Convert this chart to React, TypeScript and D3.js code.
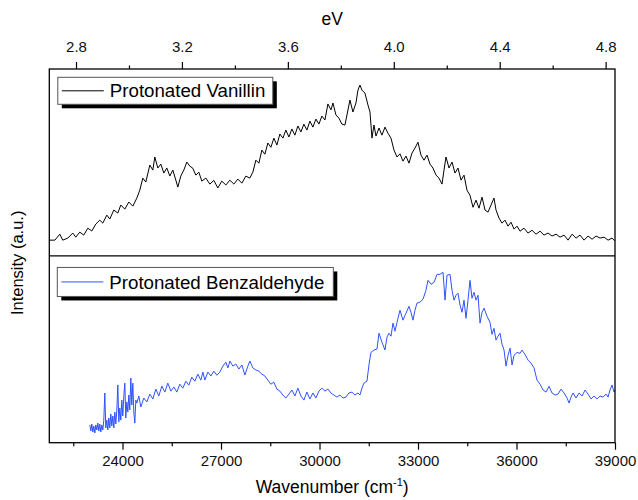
import { useEffect, useRef } from "react";
import * as d3 from "d3";

const W = 638;
const H = 500;
const margin = { top: 69, bottom: 57.3, left: 49.3, right: 23 };
const PLOT_W = W - margin.left - margin.right;
const PLOT_H = H - margin.top - margin.bottom;
const FONT = "'Liberation Sans', Arial, sans-serif";
const EV_PER_WN = 8065.54;

const WN_DOMAIN: [number, number] = [21770, 39000];
const WN_TICKS = [24000, 27000, 30000, 33000, 36000, 39000];
const WN_MINOR = [22500, 25500, 28500, 31500, 34500, 37500];
const EV_TICKS = [2.8, 3.2, 3.6, 4.0, 4.4, 4.8];
const EV_MINOR = [3.0, 3.4, 3.8, 4.2, 4.6];

const SERIES_NAMES = ["Protonated Vanillin", "Protonated Benzaldehyde"];
const SERIES_COLORS = ["#000000", "#2f52ff"];

// [wavenumber, intensity (a.u., 0-100 per panel)]
const VANILLIN: [number, number][] = [
  [21785, 8.4], [21940, 8.4], [22090, 11.6], [22180, 8.4], [22333, 9.5], [22486, 12.2],
  [22577, 10.0], [22699, 12.7], [22820, 11.1], [22943, 14.8], [23065, 13.3], [23187, 17.0],
  [23308, 19.1], [23400, 17.5], [23522, 21.8], [23613, 19.7], [23735, 24.5], [23857, 22.9],
  [23948, 27.2], [24070, 25.0], [24192, 28.8], [24314, 26.6], [24436, 30.9], [24527, 35.2],
  [24619, 41.6], [24710, 39.5], [24832, 48.6], [24923, 45.9], [24984, 52.9], [25076, 47.0],
  [25167, 49.1], [25258, 44.3], [25350, 47.0], [25441, 42.7], [25532, 45.9], [25624, 40.5],
  [25685, 36.8], [25776, 42.7], [25867, 45.9], [25959, 50.2], [26050, 48.0], [26141, 46.9],
  [26233, 43.2], [26324, 44.8], [26416, 40.0], [26538, 41.6], [26660, 38.4], [26782, 40.4],
  [26903, 36.3], [27025, 40.0], [27148, 37.9], [27270, 40.5], [27391, 38.4], [27513, 41.1],
  [27635, 38.9], [27757, 42.7], [27879, 41.6], [27970, 44.8], [28062, 51.2], [28153, 49.6],
  [28245, 56.6], [28336, 54.4], [28427, 60.4], [28519, 58.1], [28610, 63.0], [28702, 59.3],
  [28793, 65.2], [28885, 63.0], [28976, 67.3], [29068, 63.6], [29159, 67.9], [29250, 64.6],
  [29342, 69.5], [29433, 66.3], [29525, 70.5], [29616, 67.3], [29707, 72.1], [29799, 68.9],
  [29890, 73.2], [29982, 70.5], [30073, 74.8], [30165, 72.7], [30256, 81.3], [30348, 78.1],
  [30409, 81.8], [30500, 75.4], [30591, 73.7], [30683, 70.5], [30774, 70.0], [30866, 78.0],
  [30927, 83.4], [31018, 77.0], [31110, 81.8], [31171, 88.7], [31232, 91.4], [31293, 88.7],
  [31384, 87.1], [31476, 80.7], [31537, 77.0], [31598, 63.0], [31659, 70.0], [31720, 64.1],
  [31811, 68.4], [31902, 64.6], [31994, 68.9], [32085, 65.6], [32177, 63.0], [32268, 56.6],
  [32360, 52.9], [32451, 54.6], [32542, 50.7], [32634, 53.4], [32725, 49.6], [32817, 55.0],
  [32908, 57.7], [32999, 60.8], [33091, 53.9], [33182, 51.2], [33274, 53.9], [33365, 49.1],
  [33456, 47.0], [33548, 43.2], [33639, 41.6], [33731, 38.4], [33792, 45.9], [33853, 52.9],
  [33944, 47.0], [34036, 50.2], [34127, 44.3], [34218, 47.0], [34310, 40.5], [34401, 43.2],
  [34493, 35.1], [34584, 32.4], [34675, 26.0], [34767, 29.8], [34858, 25.5], [34950, 31.4],
  [35041, 24.5], [35132, 23.4], [35224, 27.2], [35315, 30.9], [35376, 24.5], [35468, 20.2],
  [35559, 17.5], [35650, 19.1], [35742, 15.9], [35833, 18.0], [35925, 14.3], [36016, 15.9],
  [36107, 13.2], [36229, 14.8], [36351, 12.2], [36473, 13.7], [36595, 11.6], [36717, 13.2],
  [36839, 11.1], [36960, 12.2], [37082, 10.6], [37204, 11.6], [37326, 10.0], [37448, 11.1],
  [37570, 8.4], [37692, 11.6], [37814, 9.5], [37935, 11.1], [38057, 8.4], [38179, 10.6],
  [38301, 8.9], [38423, 10.6], [38545, 9.5], [38667, 10.0], [38789, 8.4], [38910, 9.5],
  [39000, 7.9],
];

const BENZALDEHYDE: [number, number][] = [
  [23004, 9.5], [23035, 6.3], [23065, 10.0], [23096, 5.7], [23126, 8.9], [23157, 5.2],
  [23187, 9.5], [23218, 6.8], [23248, 10.5], [23279, 6.3], [23308, 10.0], [23339, 5.7],
  [23370, 9.5], [23400, 6.8], [23430, 12.1], [23461, 26.6], [23491, 7.9], [23522, 12.1],
  [23552, 6.8], [23583, 13.2], [23613, 7.9], [23644, 15.4], [23674, 8.9], [23705, 14.3],
  [23735, 7.9], [23766, 16.4], [23796, 10.0], [23827, 17.5], [23857, 30.9], [23887, 11.1],
  [23918, 18.6], [23948, 12.1], [23979, 22.8], [24009, 14.3], [24040, 25.0], [24070, 31.9],
  [24100, 13.2], [24131, 21.8], [24161, 16.4], [24192, 25.5], [24222, 17.5], [24253, 34.6],
  [24283, 20.2], [24314, 31.9], [24344, 16.4], [24375, 10.5], [24405, 22.8], [24436, 21.2],
  [24497, 25.0], [24558, 19.1], [24649, 23.9], [24741, 21.8], [24832, 26.0], [24923, 23.4],
  [25015, 28.7], [25106, 25.0], [25198, 30.3], [25289, 27.1], [25380, 31.9], [25472, 27.6],
  [25563, 29.8], [25654, 27.1], [25746, 31.3], [25837, 29.2], [25929, 32.9], [26020, 30.8],
  [26111, 35.1], [26203, 32.9], [26294, 36.7], [26386, 33.5], [26447, 37.8], [26508, 33.5],
  [26599, 37.8], [26691, 35.7], [26782, 38.3], [26874, 36.1], [26965, 37.8], [27057, 41.0],
  [27148, 43.1], [27209, 40.0], [27270, 43.7], [27361, 41.0], [27452, 42.1], [27544, 39.4],
  [27635, 41.6], [27727, 36.2], [27818, 41.0], [27879, 43.7], [27970, 40.0], [28062, 38.9],
  [28153, 38.3], [28245, 36.7], [28336, 35.7], [28427, 33.5], [28519, 31.3], [28610, 32.4],
  [28702, 28.7], [28793, 27.6], [28885, 25.5], [28976, 23.9], [29068, 26.0], [29159, 28.2],
  [29250, 25.0], [29342, 29.2], [29433, 25.0], [29525, 22.8], [29616, 27.1], [29707, 23.4],
  [29799, 26.6], [29890, 23.9], [29982, 27.6], [30073, 29.2], [30165, 27.6], [30256, 28.7],
  [30348, 26.6], [30439, 25.5], [30530, 24.4], [30622, 25.5], [30713, 23.9], [30805, 24.4],
  [30896, 26.6], [30988, 27.1], [31079, 25.5], [31171, 26.6], [31232, 25.5], [31293, 29.2],
  [31354, 31.9], [31446, 33.0], [31506, 41.6], [31567, 48.3], [31659, 49.6], [31750, 50.1],
  [31811, 58.6], [31902, 53.8], [31994, 49.6], [32055, 56.5], [32116, 58.6], [32177, 57.0],
  [32238, 64.0], [32299, 59.7], [32360, 64.4], [32451, 70.9], [32542, 65.6], [32634, 69.3],
  [32725, 73.0], [32786, 69.8], [32847, 65.6], [32908, 70.9], [32969, 74.7], [33060, 75.2],
  [33152, 76.8], [33243, 81.6], [33304, 86.9], [33396, 84.8], [33487, 85.8], [33579, 90.1],
  [33670, 90.1], [33762, 91.2], [33823, 76.3], [33884, 89.6], [33975, 90.1], [34036, 81.6],
  [34097, 76.3], [34158, 78.9], [34218, 80.0], [34280, 73.6], [34341, 69.8], [34401, 76.3],
  [34462, 66.6], [34523, 76.3], [34584, 86.9], [34645, 77.3], [34706, 80.5], [34767, 76.3],
  [34828, 78.9], [34889, 64.0], [34950, 69.8], [35011, 72.0], [35102, 67.7], [35193, 64.4],
  [35254, 58.0], [35315, 61.2], [35376, 54.9], [35437, 57.0], [35498, 58.6], [35559, 52.7],
  [35620, 49.6], [35681, 41.0], [35742, 46.8], [35803, 50.6], [35864, 41.6], [35925, 46.8],
  [36016, 48.3], [36107, 47.8], [36168, 49.6], [36260, 47.2], [36351, 44.2], [36442, 42.6],
  [36534, 40.0], [36625, 33.5], [36717, 31.3], [36808, 28.2], [36900, 27.1], [36991, 30.2],
  [37082, 26.6], [37174, 25.5], [37265, 26.0], [37357, 28.7], [37448, 26.6], [37539, 23.9],
  [37600, 21.2], [37661, 24.4], [37722, 26.6], [37814, 23.9], [37905, 26.6], [37997, 25.0],
  [38088, 28.2], [38179, 26.0], [38271, 23.4], [38362, 25.0], [38453, 23.4], [38545, 25.0],
  [38636, 24.4], [38727, 26.0], [38789, 24.4], [38849, 28.2], [38910, 30.9], [38971, 27.1],
  [39000, 28.2],
];

const App = () => {
  const svgRef = useRef<SVGSVGElement | null>(null);

  useEffect(() => {
    if (!svgRef.current) return;
    const svg = d3.select(svgRef.current);
    svg.selectAll("*").remove();

    const x = d3.scaleLinear().domain(WN_DOMAIN).range([0, PLOT_W]);
    const xEv = d3
      .scaleLinear()
      .domain([WN_DOMAIN[0] / EV_PER_WN, WN_DOMAIN[1] / EV_PER_WN])
      .range([0, PLOT_W]);

    const panelH = PLOT_H / 2;
    const yTop = d3.scaleLinear().domain([0, 100]).range([panelH, 0]);
    const yBot = d3.scaleLinear().domain([0, 100]).range([PLOT_H, panelH]);

    const g = svg
      .append("g")
      .attr("transform", `translate(${margin.left}, ${margin.top})`);

    // series
    const lineTop = d3
      .line<[number, number]>()
      .x((d) => x(d[0]))
      .y((d) => yTop(d[1]));
    const lineBot = d3
      .line<[number, number]>()
      .x((d) => x(d[0]))
      .y((d) => yBot(d[1]));

    g.append("path")
      .datum(VANILLIN)
      .attr("fill", "none")
      .attr("stroke", SERIES_COLORS[0])
      .attr("stroke-width", 1)
      .attr("stroke-linejoin", "round")
      .attr("d", lineTop);

    g.append("path")
      .datum(BENZALDEHYDE)
      .attr("fill", "none")
      .attr("stroke", SERIES_COLORS[1])
      .attr("stroke-width", 1)
      .attr("stroke-linejoin", "round")
      .attr("d", lineBot);

    // axes
    const styleAxis = (sel: d3.Selection<SVGGElement, unknown, null, undefined>) => {
      sel.select(".domain").remove();
      sel.selectAll("line").attr("stroke", "#000").attr("stroke-width", 1.2);
      sel.selectAll("text").attr("font-family", FONT).attr("font-size", 15).attr("fill", "#111");
    };

    g.append("g")
      .attr("transform", `translate(0, ${PLOT_H})`)
      .call(
        d3.axisBottom(x).tickValues(WN_TICKS).tickFormat(d3.format("d")).tickSize(7).tickPadding(6)
      )
      .call(styleAxis);
    g.append("g")
      .attr("transform", `translate(0, ${PLOT_H})`)
      .call(d3.axisBottom(x).tickValues(WN_MINOR).tickFormat(() => "").tickSize(3.5))
      .call(styleAxis);

    g.append("g")
      .call(
        d3.axisTop(xEv).tickValues(EV_TICKS).tickFormat(d3.format(".1f")).tickSize(7).tickPadding(10)
      )
      .call(styleAxis);
    g.append("g")
      .call(d3.axisTop(xEv).tickValues(EV_MINOR).tickFormat(() => "").tickSize(3.5))
      .call(styleAxis);

    // frame
    g.append("rect")
      .attr("width", PLOT_W)
      .attr("height", PLOT_H)
      .attr("fill", "none")
      .attr("stroke", "#000")
      .attr("stroke-width", 1.3);
    g.append("line")
      .attr("x1", 0)
      .attr("x2", PLOT_W)
      .attr("y1", panelH)
      .attr("y2", panelH)
      .attr("stroke", "#000")
      .attr("stroke-width", 1.3);

    // legends
    const legends = [
      { x: 8.5, y: 8.3, w: 215, h: 27, name: SERIES_NAMES[0], color: SERIES_COLORS[0] },
      { x: 8, y: panelH + 11.6, w: 276, h: 29, name: SERIES_NAMES[1], color: SERIES_COLORS[1] },
    ];
    legends.forEach((l) => {
      const lg = g.append("g").attr("transform", `translate(${l.x}, ${l.y})`);
      lg.append("rect")
        .attr("x", 4)
        .attr("y", 4)
        .attr("width", l.w)
        .attr("height", l.h)
        .attr("fill", "#000");
      lg.append("rect")
        .attr("width", l.w)
        .attr("height", l.h)
        .attr("fill", "#fff")
        .attr("stroke", "#555")
        .attr("stroke-width", 1);
      lg.append("line")
        .attr("x1", 4)
        .attr("x2", 46)
        .attr("y1", l.h / 2)
        .attr("y2", l.h / 2)
        .attr("stroke", l.color)
        .attr("stroke-width", 1);
      lg.append("text")
        .attr("x", 52)
        .attr("y", l.h / 2 + 6.7)
        .attr("font-family", FONT)
        .attr("font-size", 18.7)
        .attr("fill", "#000")
        .text(l.name);
    });

    // axis titles
    svg
      .append("text")
      .attr("x", margin.left + PLOT_W / 2)
      .attr("y", 25)
      .attr("text-anchor", "middle")
      .attr("font-family", FONT)
      .attr("font-size", 17.5)
      .text("eV");

    const xt = svg
      .append("text")
      .attr("x", margin.left + PLOT_W / 2)
      .attr("y", 493)
      .attr("text-anchor", "middle")
      .attr("font-family", FONT)
      .attr("font-size", 17.5);
    xt.append("tspan").text("Wavenumber (cm");
    xt.append("tspan").attr("font-size", 11).attr("dy", -7).text("-1");
    xt.append("tspan").attr("dy", 7).text(")");

    svg
      .append("text")
      .attr("transform", `translate(23, ${margin.top + PLOT_H / 2 + 7}) rotate(-90)`)
      .attr("text-anchor", "middle")
      .attr("font-family", FONT)
      .attr("font-size", 16.5)
      .text("Intensity (a.u.)");
  }, []);

  return (
    <div style={{ position: "absolute", left: 0, top: 0 }}>
      <svg ref={svgRef} width={W} height={H} style={{ display: "block", background: "#fff" }} />
    </div>
  );
};

export default App;
